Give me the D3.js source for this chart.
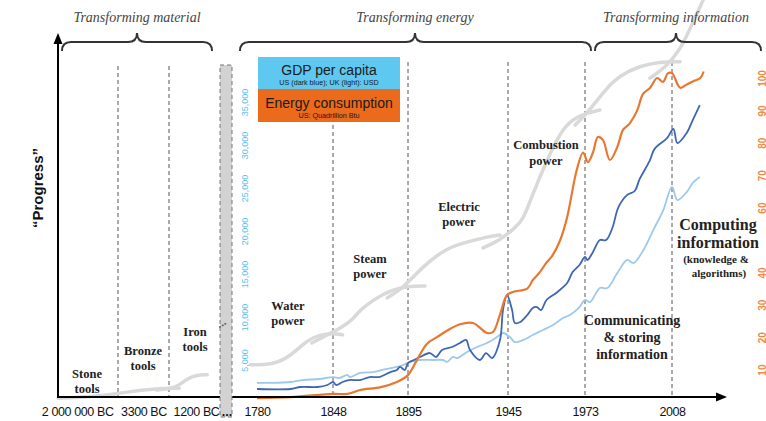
<!DOCTYPE html>
<html><head><meta charset="utf-8">
<script src="https://cdn.jsdelivr.net/npm/d3@7"></script>
<style>body{margin:0;background:#fff}svg{display:block}</style>
</head><body><svg id="c" width="766" height="421"></svg>
<script>
// ---------- DATA ----------
const modernYears = [1780,1848,1895,1945,1973,2008];
const eraLabels = ["2 000 000 BC","3300 BC","1200 BC"];
const eraLabelPos = [0.32,1.5,2.53];
const eraBounds = [1,2];
const gdpTicks = [5000,10000,15000,20000,25000,30000,35000];
const energyTicks = [10,20,30,40,60,70,80,90,100];

const energyUS = [[1780,1.2],[1810,1.5],[1848,2.5],[1857,2.5],[1865,3.7],[1878,4.6],[1888,6.2],[1895,8.3],[1899.5,13],[1904.5,18],[1909.5,20],[1914.5,22],[1921,24],[1927.5,24.4],[1934.5,21.3],[1937.5,21.6],[1941,27],[1944.5,33],[1947,34],[1952,35],[1954,37.6],[1956.5,40],[1959,43],[1961,45],[1964,50],[1966.5,57],[1970,71.6],[1972.3,77],[1974.2,74],[1976.2,77],[1978.2,81.8],[1980.2,80.9],[1983,74.7],[1986,78.7],[1988.3,84],[1991,86],[1994,90],[1996.3,95],[1999.2,97],[2002,100],[2004.4,98.8],[2006.4,101.5],[2008,101.5],[2011,97],[2013.6,98.1],[2015.8,99],[2018.4,100],[2019.6,102]];

const gdpUS = [[1780,1630],[1810,1630],[1819,1860],[1834,1860],[1843,2090],[1848,2440],[1850,2090],[1854,2440],[1858,2670],[1865,2670],[1871,3020],[1877,3020],[1884,3600],[1888,3840],[1890,4190],[1893,3840],[1895,4650],[1898,5000],[1901,5350],[1906,5810],[1909,5350],[1912,6160],[1917,6510],[1921,6980],[1924,7330],[1926,6160],[1931,5000],[1934,5810],[1937,5230],[1941,7330],[1942.5,10800],[1944.5,12560],[1946.5,10800],[1947.5,9300],[1949.5,9420],[1952,10230],[1954,11050],[1955.5,11160],[1957,10810],[1959,11980],[1962.5,12790],[1966.5,13950],[1968.5,15230],[1971,16050],[1973,16980],[1974,16630],[1976,17440],[1979,18950],[1981.5,18950],[1984,20350],[1986.5,22800],[1990,24200],[1993,24650],[1995,26050],[1999,28150],[2001,29550],[2006,30800],[2008.5,31860],[2010,30230],[2013.4,31400],[2015.6,32900],[2018.2,34650]];

const gdpUK = [[1780,2330],[1810,2440],[1821,2670],[1836,2790],[1848,3020],[1852,2910],[1857,3260],[1858.5,3020],[1865,3490],[1873,3600],[1879,3840],[1888,4190],[1892,4420],[1896,4770],[1901,5000],[1907.5,5000],[1912.5,5000],[1914.5,4770],[1917.5,5350],[1919.5,5230],[1924.5,5930],[1929.5,6510],[1934.5,6980],[1939.5,7670],[1942.5,8140],[1945.7,7670],[1947.5,7090],[1950.5,7330],[1954,7910],[1957.7,8490],[1961.4,9070],[1965,9880],[1967.5,10230],[1971,11160],[1973,11980],[1975,11740],[1979,13370],[1982,13370],[1986,15120],[1990,16630],[1992.5,16280],[1996.5,17790],[2000.5,20120],[2004.5,22440],[2008,25120],[2010,23600],[2013.4,24530],[2015.6,25580],[2018.2,26280]];

// conceptual "progress" S-curves (0-100)
const progressAncient = [
  [[0,0.5],[0.5,0.8],[0.95,1.6]],
  [[0.75,1.1],[1.2,2.2],[1.6,2.9],[2.1,3.2],[2.2,3.2]],
  [[1.76,2.7],[2.08,3.2],[2.2,4.0],[2.35,5.7],[2.55,6.8],[2.75,6.8]]
];
const progressModern = [
  [[1774,9.5],[1794,9.5],[1809,11.6],[1825,16.2],[1836,17.6],[1848,18.1],[1854,17.6]],
  [[1829,15.4],[1839,17.0],[1854,19.7],[1860,21.6],[1865,24.3],[1873,27.0],[1884,29.7],[1895,30.8],[1903.5,30.8]],
  [[1882,27.6],[1890,29.7],[1897.5,33.2],[1904.5,37.0],[1914.5,41.1],[1924.5,42.7],[1934.5,44.1],[1941,44.6]],
  [[1932.5,41.1],[1941,43.2],[1947.5,46.5],[1950.5,48.6],[1954.1,55.9],[1959.2,64.9],[1963.9,72.2],[1968.3,75.9],[1973.8,77.6],[1979,78.4]],
  [[1969.4,74.3],[1975,78.4],[1981,83.8],[1987.1,87.8],[1995.1,90.3],[2003.2,91.4],[2011,91.4]],
  [[1999.1,87.0],[2005.1,89.7],[2011,94.6],[2015.3,101.4],[2019.4,108.1]]
];

// ---------- SCALES ----------
const svg = d3.select("#c");
const xM = d3.scaleLinear().domain([1780,1848,1895,1945,1973,2008,2019]).range([257,333,408,508,585,672,702]);
const xA = d3.scaleLinear().domain([0,1,2,3]).range([58,118,169,220]);
const yG = d3.scaleLinear().domain([0,35000]).range([403,102]);
const yE = d3.scaleLinear().domain([0,100]).range([402,78]);
const yP = d3.scaleLinear().domain([0,100]).range([400,30]);

const serif = "'Liberation Serif','Times New Roman',serif";
const sans = "'Liberation Sans',Arial,sans-serif";

// ---------- DASHED ERA LINES ----------
const dash = svg.append("g").attr("stroke","#555").attr("stroke-width",1).attr("stroke-dasharray","4,3");
eraBounds.forEach(b=>dash.append("line").attr("x1",xA(b)).attr("x2",xA(b)).attr("y1",66).attr("y2",397));
modernYears.slice(1).forEach(y=>dash.append("line").attr("x1",xM(y)).attr("x2",xM(y)).attr("y1",62).attr("y2",397));

// ---------- GRAY PROGRESS CURVES ----------
const gLine = d3.line().curve(d3.curveBasis);
const grayG = svg.append("g").attr("fill","none").attr("stroke","#d9d9d9").attr("stroke-width",3.5).attr("stroke-linecap","round");
progressAncient.forEach(s=>grayG.append("path").attr("d",gLine(s.map(d=>[xA(d[0]),yP(d[1])]))));
progressModern.forEach(s=>grayG.append("path").attr("d",gLine(s.map(d=>[xM(d[0]),yP(d[1])]))));

// ---------- DATA LINES ----------
const line = d3.line().curve(d3.curveCatmullRom.alpha(0.5));
svg.append("path").attr("fill","none").attr("stroke","#9cc9ec").attr("stroke-width",1.8)
  .attr("d",line(gdpUK.map(d=>[xM(d[0]),yG(d[1])])));
svg.append("path").attr("fill","none").attr("stroke","#3d66b3").attr("stroke-width",1.8)
  .attr("d",line(gdpUS.map(d=>[xM(d[0]),yG(d[1])])));
svg.append("path").attr("fill","none").attr("stroke","#e8782f").attr("stroke-width",2.2)
  .attr("d",line(energyUS.map(d=>[xM(d[0]),yE(d[1])])));

// ---------- AXES (frame) ----------
const ax = svg.append("g").attr("stroke","#000").attr("stroke-width",2);
ax.append("line").attr("x1",58).attr("x2",58).attr("y1",397).attr("y2",42);
ax.append("line").attr("x1",57).attr("x2",718).attr("y1",397).attr("y2",397);
svg.append("path").attr("d","M58,33 L53.5,44 L62.5,44 Z").attr("fill","#000");
svg.append("path").attr("d","M727,397 L716,392.5 L716,401.5 Z").attr("fill","#000");

// gray break bar
svg.append("rect").attr("x",220).attr("y",65).attr("width",12).attr("height",352)
  .attr("fill","#d2d2d2").attr("stroke","#777").attr("stroke-width",1).attr("stroke-dasharray","4,3");
svg.append("text").attr("x",223).attr("y",326).attr("transform","rotate(-28,223,326)")
  .attr("font-family",sans).attr("font-size",11).attr("font-weight","bold").attr("fill","#555").attr("text-anchor","middle").text("...");

// bottom tick labels
const bm = svg.append("g").attr("transform","translate(0,397)")
  .call(d3.axisBottom(xM).tickValues(modernYears).tickSize(0).tickPadding(10).tickFormat(d3.format("d")));
const ba = svg.append("g").attr("transform","translate(0,397)")
  .call(d3.axisBottom(xA).tickValues(eraLabelPos).tickSize(0).tickPadding(10).tickFormat((d,i)=>eraLabels[i]));
[bm,ba].forEach(g=>{g.select(".domain").remove();
  g.selectAll("text").attr("font-family",sans).attr("font-size",12.5).attr("fill","#111").style("letter-spacing","-0.4px");});
svg.append("text").attr("x",227).attr("y",416).attr("text-anchor","middle").attr("font-family",sans)
  .attr("font-size",12.5).attr("font-weight","bold").attr("fill","#111").text("...");

// left GDP axis (blue, rotated)
const gA = svg.append("g").attr("transform","translate(245,0)")
  .call(d3.axisLeft(yG).tickValues(gdpTicks).tickSize(0).tickFormat(d3.format(",")));
gA.select(".domain").remove();
gA.selectAll("text").attr("transform","rotate(-90)").attr("x",0).attr("y",0).attr("dy","0.35em")
  .attr("text-anchor","middle").attr("font-family",sans).attr("font-size",9).attr("fill","#55c0ee");

// right energy axis (orange, rotated)
const eA = svg.append("g").attr("transform","translate(762,0)")
  .call(d3.axisRight(yE).tickValues(energyTicks).tickSize(0));
eA.select(".domain").remove();
eA.selectAll("text").attr("transform","rotate(-90)").attr("x",0).attr("y",0).attr("dy","0.35em")
  .attr("text-anchor","middle").attr("font-family",sans).attr("font-size",10).attr("font-weight","bold").attr("fill","#ec8a4a");

// ---------- LEGEND BOXES ----------
svg.append("rect").attr("x",258).attr("y",57).attr("width",142).attr("height",32).attr("fill","#5ec8f0");
svg.append("rect").attr("x",258).attr("y",89).attr("width",142).attr("height",33).attr("fill","#ec6a1c");
const lt = (x,y,s,t)=>svg.append("text").attr("x",x).attr("y",y).attr("text-anchor","middle")
  .attr("font-family",sans).attr("font-size",s).attr("fill","#1a1a1a").text(t);
lt(329,75,14,"GDP per capita");
lt(329,85,7.2,"US (dark blue); UK (light): USD");
lt(329,108,14,"Energy consumption");
lt(329,118,7.2,"US: Quadrillion Btu");

// ---------- BRACES & TITLES ----------
function brace(x1,x2,xt,y){
  const r=9,h=9;
  return `M${x1},${y+h} Q${x1},${y} ${x1+r},${y} L${xt-r},${y} Q${xt},${y} ${xt},${y-h} Q${xt},${y} ${xt+r},${y} L${x2-r},${y} Q${x2},${y} ${x2},${y+h}`;
}
const br = svg.append("g").attr("fill","none").attr("stroke","#333").attr("stroke-width",2);
br.append("path").attr("d",brace(62,212,137,42));
br.append("path").attr("d",brace(240,591,415,42));
br.append("path").attr("d",brace(595,761,676,42));
const tt = (x,t)=>svg.append("text").attr("x",x).attr("y",22).attr("text-anchor","middle")
  .attr("font-family",serif).attr("font-style","italic").attr("font-size",14).attr("fill","#444").text(t);
tt(137,"Transforming material");
tt(415,"Transforming energy");
tt(676,"Transforming information");

// "Progress" label
svg.append("text").attr("transform","translate(43,188) rotate(-90)").attr("text-anchor","middle")
  .attr("font-family",sans).attr("font-weight","bold").attr("font-size",15).attr("fill","#111").text("\u201CProgress\u201D");

// ---------- ERA LABELS ----------
function lab(x,y,lines,size,gap){
  const t = svg.append("text").attr("text-anchor","middle").attr("font-family",serif).attr("font-weight","bold")
    .attr("font-size",size).attr("fill","#222");
  lines.forEach((l,i)=>t.append("tspan").attr("x",x).attr("y",y+i*gap).text(l));
}
lab(87,378,["Stone","tools"],12.5,15);
lab(143,355,["Bronze","tools"],12.5,15);
lab(195,336,["Iron","tools"],12.5,15);
lab(288,310,["Water","power"],12.5,15);
lab(370,263,["Steam","power"],12.5,15);
lab(459,211,["Electric","power"],12.5,15);
lab(546,149,["Combustion","power"],12.5,16);
lab(632,325,["Communicating","& storing","information"],14,17);
lab(718,230,["Computing","information"],16,18);
lab(716,263,["(knowledge &"],11,14);
lab(719,277,["algorithms)"],11,14);
</script></body></html>
